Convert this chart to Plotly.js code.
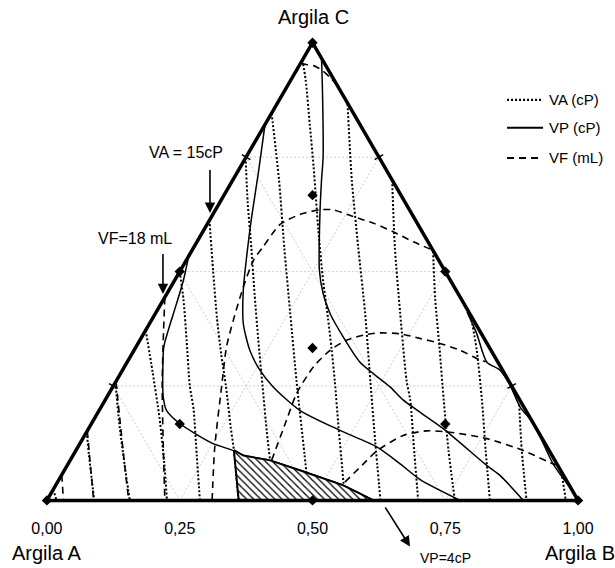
<!DOCTYPE html>
<html>
<head>
<meta charset="utf-8">
<script src="https://cdn.plot.ly/plotly-3.0.1.min.js"></script>
<style>html,body{margin:0;padding:0;background:#fff;}#chart{width:615px;height:568px;}</style>
</head>
<body>
<div id="chart"></div>
<script>
// ---- DATA (x = position along the base, c = fraction of Argila C) ----
const TICK_VALS = [0, 0.25, 0.5, 0.75, 1];
const GRID_VALS = [0.25, 0.5, 0.75];

// VA (cP) contours - dotted
const VA_X = [
 [0.012, 0.018],
 [0.075, 0.079, 0.084, 0.089],
 [0.129, 0.136, 0.146, 0.156],
 [0.186, 0.199, 0.212, 0.221, 0.226],
 [0.25, 0.257, 0.263, 0.269, 0.276, 0.282, 0.288],
 [0.306, 0.313, 0.320, 0.328, 0.337, 0.346, 0.352, 0.361],
 [0.374, 0.378, 0.385, 0.391, 0.398, 0.406, 0.414, 0.420, 0.428],
 [0.423, 0.437, 0.447, 0.458, 0.470, 0.485, 0.494],
 [0.481, 0.487, 0.495, 0.502, 0.511, 0.520, 0.529, 0.536, 0.542, 0.549, 0.556, 0.561],
 [0.566, 0.574, 0.586, 0.599, 0.609, 0.618, 0.628],
 [0.650, 0.655, 0.665, 0.677, 0.684, 0.692, 0.699],
 [0.727, 0.731, 0.739, 0.747, 0.756, 0.768],
 [0.798, 0.809, 0.819, 0.826, 0.834],
 [0.889, 0.894, 0.903],
 [0.969, 0.977]
];
const VA_C = [
 [0.024, 0],
 [0.15, 0.10, 0.05, 0],
 [0.258, 0.17, 0.08, 0],
 [0.372, 0.28, 0.18, 0.08, 0],
 [0.5, 0.44, 0.35, 0.25, 0.2, 0.1, 0],
 [0.613, 0.50, 0.40, 0.32, 0.25, 0.16, 0.11, 0],
 [0.75, 0.65, 0.55, 0.45, 0.35, 0.25, 0.15, 0.088, 0],
 [0.846, 0.70, 0.55, 0.41, 0.26, 0.10, 0],
 [0.962, 0.92, 0.82, 0.73, 0.59, 0.48, 0.40, 0.33, 0.26, 0.16, 0.07, 0],
 [0.866, 0.70, 0.554, 0.41, 0.26, 0.13, 0],
 [0.70, 0.554, 0.41, 0.263, 0.219, 0.10, 0],
 [0.545, 0.44, 0.335, 0.22, 0.11, 0],
 [0.404, 0.33, 0.219, 0.11, 0],
 [0.21, 0.109, 0],
 [0.06, 0]
];

// VF (mL) contours - dashed
const VF_X = [
 [0.028, 0.031],
 [0.076, 0.080, 0.084, 0.088],
 [0.130, 0.138, 0.146, 0.154],
 [0.222, 0.219, 0.217, 0.219, 0.222],
 [0.311, 0.316, 0.329, 0.338, 0.351, 0.370, 0.389, 0.407, 0.439, 0.477, 0.514, 0.539, 0.577, 0.615, 0.652, 0.690, 0.726],
 [0.423, 0.451, 0.470, 0.502, 0.533, 0.564, 0.602, 0.627, 0.665, 0.702, 0.740, 0.778, 0.815, 0.826],
 [0.561, 0.596, 0.621, 0.671, 0.715, 0.759, 0.828, 0.897, 0.953, 0.961],
 [0.479, 0.490, 0.502, 0.520, 0.535, 0.544]
];
const VF_C = [
 [0.056, 0],
 [0.152, 0.10, 0.05, 0],
 [0.26, 0.17, 0.08, 0],
 [0.444, 0.35, 0.25, 0.12, 0],
 [0, 0.117, 0.25, 0.335, 0.394, 0.467, 0.525, 0.554, 0.603, 0.625, 0.635, 0.635, 0.62, 0.6055, 0.587, 0.565, 0.547],
 [0.0875, 0.175, 0.2335, 0.292, 0.328, 0.35, 0.3626, 0.366, 0.364, 0.354, 0.343, 0.328, 0.307, 0.303],
 [0.04, 0.080, 0.108, 0.142, 0.152, 0.149, 0.135, 0.109, 0.080, 0.078],
 [0.955, 0.952, 0.950, 0.938, 0.922, 0.910]
];

// VP (cP) contours - solid
const VP_X = [
 [0.268, 0.257, 0.244, 0.2285, 0.220, 0.218, 0.219, 0.225, 0.25, 0.279, 0.313, 0.353, 0.370, 0.42, 0.476, 0.558, 0.615],
 [0.517, 0.519, 0.520, 0.517, 0.514, 0.513, 0.520, 0.533, 0.558, 0.589, 0.6145, 0.646, 0.671, 0.746, 0.828, 0.853, 0.897],
 [0.4105, 0.398, 0.3855, 0.376, 0.3697, 0.3697, 0.382, 0.401, 0.426, 0.476, 0.552, 0.621, 0.665, 0.702, 0.778],
 [0.791, 0.809, 0.828, 0.853, 0.872, 0.891, 0.916, 0.953, 0.985]
];
const VP_C = [
 [0.54, 0.481, 0.43, 0.372, 0.3355, 0.277, 0.226, 0.197, 0.168, 0.146, 0.124, 0.108, 0.098, 0.0875, 0.066, 0.033, 0],
 [0.9665, 0.8825, 0.751, 0.70, 0.627, 0.503, 0.452, 0.4085, 0.357, 0.3026, 0.277, 0.248, 0.219, 0.157, 0.0766, 0.0547, 0],
 [0.8206, 0.715, 0.62, 0.5324, 0.4595, 0.3866, 0.328, 0.2845, 0.248, 0.197, 0.153, 0.117, 0.080, 0.046, 0],
 [0.412, 0.365, 0.3026, 0.2845, 0.2516, 0.204, 0.168, 0.080, 0.028]
];

// Hatched (optimal) region
const HATCH_X = [0.352, 0.361, 0.615, 0.558, 0.476, 0.42, 0.370, 0.352];
const HATCH_C = [0.11, 0, 0, 0.033, 0.066, 0.0875, 0.098, 0.11];

// Experimental design points (diamonds)
const PTS_X = [0, 1, 0.5, 0.25, 0.75, 0.5, 0.5, 0.5, 0.25, 0.75];
const PTS_C = [0, 0, 1, 0.5, 0.5, 0, 0.667, 0.333, 0.167, 0.167];

// Side tick marks (quarter positions)
const SIDE_TICK_X = [0.125, 0.375, 0.875, 0.625];
const SIDE_TICK_C = [0.25, 0.75, 0.25, 0.75];
const SIDE_TICK_ANGLE = [30, 30, -30, -30];

// Triangle
const TRI_X = [0, 1, 0.5, 0];
const TRI_C = [0, 0, 1, 0];

// ---- LAYOUT GEOMETRY ----
const W = 615, H = 568;
const PX0 = 47, PX1 = 578, PY0 = 500, PY1 = 43;
const XR = [-0.03, 1.03], YR = [-0.01, 1.03];
const sx = PX1 - PX0, sy = PY0 - PY1;
const mL = PX0 + XR[0] * sx, mR = W - (PX0 + XR[1] * sx);
const mT = PY1 - (YR[1] - 1) * sy, mB = H - (PY0 - YR[0] * sy);
const plotW = W - mL - mR, plotH = H - mT - mB;
const paperX = px => (px - mL) / plotW;
const paperY = py => (H - mB - py) / plotH;

const FONT = 'Liberation Sans, Arial, Helvetica, sans-serif';
const traces = [];

// grid (light gray dotted)
GRID_VALS.forEach(t => {
  traces.push({x: [t / 2, 1 - t / 2], y: [t, t]});
  traces.push({x: [t, t + (1 - t) / 2], y: [0, 1 - t]});
  traces.push({x: [1 - t, (1 - t) / 2], y: [0, 1 - t]});
});
traces.forEach(tr => Object.assign(tr, {type: 'scatter', mode: 'lines', hoverinfo: 'skip', showlegend: false,
  line: {color: '#cccccc', width: 1, dash: '2px,2px'}}));

function addCurves(X, C, style) {
  X.forEach((xs, i) => traces.push({type: 'scatter', mode: 'lines', x: xs, y: C[i], showlegend: false,
    hoverinfo: 'skip', line: Object.assign({color: '#000', shape: 'spline', smoothing: 0.7}, style)}));
}
addCurves(VA_X, VA_C, {width: 2, dash: '2px,2px'});
addCurves(VF_X, VF_C, {width: 1.6, dash: '7px,5px'});
addCurves(VP_X, VP_C, {width: 1.5});

// hatched region
traces.push({type: 'scatter', mode: 'lines', x: HATCH_X, y: HATCH_C, fill: 'toself', showlegend: false,
  hoverinfo: 'skip', line: {color: '#000', width: 2},
  fillcolor: 'white',
  fillpattern: {shape: '\\', fgcolor: '#000', bgcolor: '#fff', size: 5, solidity: 0.25}});

// triangle
traces.push({type: 'scatter', mode: 'lines', x: TRI_X, y: TRI_C, showlegend: false, hoverinfo: 'skip',
  cliponaxis: false, line: {color: '#000', width: 3.5}});

// side ticks
traces.push({type: 'scatter', mode: 'markers', x: SIDE_TICK_X, y: SIDE_TICK_C, showlegend: false,
  hoverinfo: 'skip', cliponaxis: false,
  marker: {symbol: 'line-ew', size: 7, angle: SIDE_TICK_ANGLE, line: {color: '#000', width: 1.5}}});

// design points
traces.push({type: 'scatter', mode: 'markers', x: PTS_X, y: PTS_C, showlegend: false, cliponaxis: false,
  marker: {symbol: 'diamond', size: 8, color: '#000'}});

// ---- legend (manual) ----
const LEG = [
  {label: 'VA (cP)', dash: '2px,2px', width: 2.2, py: 100},
  {label: 'VP (cP)', dash: 'solid', width: 2, py: 128},
  {label: 'VF (mL)', dash: '7px,5px', width: 2, py: 158}
];
const shapes = LEG.map(l => ({type: 'line', xref: 'paper', yref: 'paper',
  x0: paperX(507), x1: paperX(543), y0: paperY(l.py), y1: paperY(l.py),
  line: {color: '#000', width: l.width, dash: l.dash}}));

const annotations = LEG.map(l => ({xref: 'paper', yref: 'paper', x: paperX(547), y: paperY(l.py), text: l.label,
  showarrow: false, xanchor: 'left', yanchor: 'middle', font: {family: FONT, size: 15, color: '#000'}}));

function txt(text, px, py, size) {
  return {xref: 'paper', yref: 'paper', x: paperX(px), y: paperY(py), text: text, showarrow: false,
    xanchor: 'center', yanchor: 'middle', font: {family: FONT, size: size, color: '#000'}};
}
function arrow(tipPx, tipPy, tailPx, tailPy) {
  return {xref: 'paper', yref: 'paper', x: paperX(tipPx), y: paperY(tipPy), text: ' ', font: {size: 1},
    showarrow: true, arrowhead: 2, arrowsize: 1.3, arrowwidth: 1.6, arrowcolor: '#000',
    ax: tailPx - tipPx, ay: tailPy - tipPy};
}
annotations.push(
  txt('Argila C', 313, 17, 20),
  txt('Argila A', 47, 552, 20),
  txt('Argila B', 580, 552, 20),
  txt('VA = 15cP', 186, 153, 16),
  txt('VF=18 mL', 135, 238, 16),
  txt('VP=4cP', 445, 557, 14),
  arrow(210, 213, 210, 168),
  arrow(163, 294, 163, 252),
  arrow(410, 546, 384, 505)
);

const layout = {
  width: W, height: H, autosize: false,
  margin: {l: mL, r: mR, t: mT, b: mB, pad: 0},
  paper_bgcolor: '#fff', plot_bgcolor: '#fff',
  separators: ',.',
  showlegend: false,
  font: {family: FONT, color: '#000'},
  xaxis: {range: XR, tickvals: TICK_VALS, tickformat: '.2f', showgrid: false, zeroline: false,
    showline: false, ticks: '', ticklabelstandoff: 12, tickfont: {family: FONT, size: 16, color: '#000'},
    fixedrange: true},
  yaxis: {range: YR, visible: false, showgrid: false, zeroline: false, fixedrange: true},
  shapes: shapes,
  annotations: annotations
};

Plotly.newPlot('chart', traces, layout, {displayModeBar: false, staticPlot: true});
</script>
</body>
</html>
